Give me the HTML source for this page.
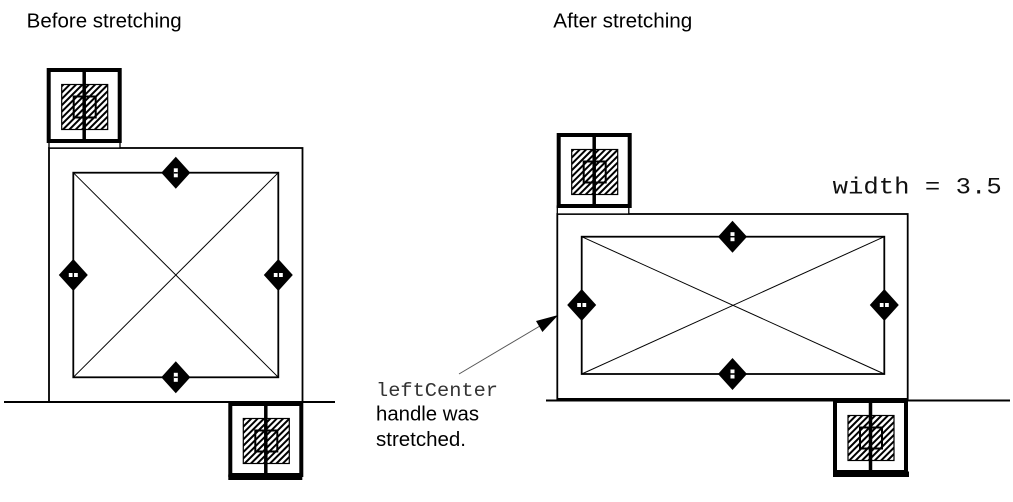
<!DOCTYPE html>
<html>
<head>
<meta charset="utf-8">
<style>
html,body{margin:0;padding:0;background:#fff;}
svg{display:block;}
.sans{font-family:"Liberation Sans",Arial,sans-serif;}
.mono{font-family:"Liberation Mono","Courier New",monospace;}
</style>
</head>
<body>
<svg width="1013" height="502" viewBox="0 0 1013 502" xmlns="http://www.w3.org/2000/svg">
<defs>
  <pattern id="h" width="4.5" height="4.5" patternUnits="userSpaceOnUse" patternTransform="rotate(45)">
    <rect width="2" height="4.5" fill="#000"/>
  </pattern>
  <g id="box">
    <rect x="2" y="2" width="71" height="71" fill="#fff" stroke="#000" stroke-width="4"/>
    <rect x="15" y="16.5" width="46" height="45" fill="#fff" stroke="#000" stroke-width="1.2"/>
    <rect x="15" y="16.5" width="46" height="45" fill="url(#h)"/>
    <rect x="27" y="28.5" width="22" height="21" fill="none" stroke="#000" stroke-width="2"/>
    <line x1="37.5" y1="2" x2="37.5" y2="73" stroke="#000" stroke-width="3.5"/>
  </g>
  <g id="dv">
    <polygon points="0,-16 14.5,0 0,16 -14.5,0" fill="#000"/>
    <rect x="-2" y="-4.5" width="4" height="9" fill="#fff"/>
    <line x1="-2" y1="0" x2="2" y2="0" stroke="#000" stroke-width="1.5"/>
  </g>
  <g id="dh">
    <polygon points="0,-16 14.5,0 0,16 -14.5,0" fill="#000"/>
    <rect x="-4.5" y="-2" width="9" height="4" fill="#fff"/>
    <line x1="0" y1="-2" x2="0" y2="2" stroke="#000" stroke-width="1.5"/>
  </g>
</defs>

<!-- Titles -->
<text class="sans" x="26.7" y="27.3" font-size="20.5" textLength="155" lengthAdjust="spacingAndGlyphs" fill="#000">Before stretching</text>
<text class="sans" x="553.3" y="27.3" font-size="20.5" textLength="139" lengthAdjust="spacingAndGlyphs" fill="#000">After stretching</text>

<!-- ================= LEFT DIAGRAM ================= -->
<rect x="49" y="148" width="253.5" height="254" fill="none" stroke="#000" stroke-width="1.8"/>
<rect x="73.3" y="172.7" width="205" height="204.6" fill="none" stroke="#000" stroke-width="1.8"/>
<line x1="73.3" y1="172.7" x2="278.3" y2="377.3" stroke="#000" stroke-width="1"/>
<line x1="278.3" y1="172.7" x2="73.3" y2="377.3" stroke="#000" stroke-width="1"/>
<line x1="4" y1="402" x2="335" y2="402" stroke="#000" stroke-width="2"/>
<use href="#dv" x="175.8" y="172.8"/>
<use href="#dv" x="175.8" y="377.3"/>
<use href="#dh" x="73.3" y="275"/>
<use href="#dh" x="278.3" y="275"/>
<rect x="49" y="141" width="71" height="7" fill="#fff" stroke="#000" stroke-width="1.3"/>
<use href="#box" x="46.7" y="68"/>
<use href="#box" x="228.3" y="402"/>
<rect x="228.3" y="474.5" width="74" height="5.5" fill="#000"/>

<!-- ================= RIGHT DIAGRAM ================= -->
<rect x="557.3" y="214" width="350.4" height="186" fill="none" stroke="#000" stroke-width="1.8"/>
<rect x="581.7" y="236.7" width="302.6" height="137.3" fill="none" stroke="#000" stroke-width="1.8"/>
<line x1="581.7" y1="236.7" x2="884.3" y2="374" stroke="#000" stroke-width="1"/>
<line x1="884.3" y1="236.7" x2="581.7" y2="374" stroke="#000" stroke-width="1"/>
<line x1="546" y1="400.5" x2="1010" y2="400.5" stroke="#000" stroke-width="2"/>
<line x1="557.3" y1="399.5" x2="907.7" y2="399.5" stroke="#000" stroke-width="3"/>
<use href="#dv" x="732.5" y="236.7"/>
<use href="#dv" x="732.5" y="374"/>
<use href="#dh" x="581.7" y="305"/>
<use href="#dh" x="884.3" y="305"/>
<rect x="557.3" y="206" width="71.5" height="8" fill="#fff" stroke="#000" stroke-width="1.3"/>
<use href="#box" x="556.7" y="133"/>
<use href="#box" x="833" y="399"/>
<rect x="833" y="471.5" width="76" height="5.5" fill="#000"/>

<text class="mono" x="832.7" y="193.3" font-size="23" textLength="169" lengthAdjust="spacingAndGlyphs" fill="#111">width = 3.5</text>

<line x1="459" y1="374" x2="545" y2="323" stroke="#555" stroke-width="1"/>
<polygon points="558.3,315 542.4,332 536,321" fill="#000"/>

<text class="mono" x="376" y="396" font-size="19" textLength="122" lengthAdjust="spacingAndGlyphs" fill="#333">leftCenter</text>
<text class="sans" x="376" y="420.7" font-size="20" textLength="103" lengthAdjust="spacingAndGlyphs" fill="#000">handle was</text>
<text class="sans" x="376" y="446" font-size="20" textLength="90" lengthAdjust="spacingAndGlyphs" fill="#000">stretched.</text>
</svg>
</body>
</html>
